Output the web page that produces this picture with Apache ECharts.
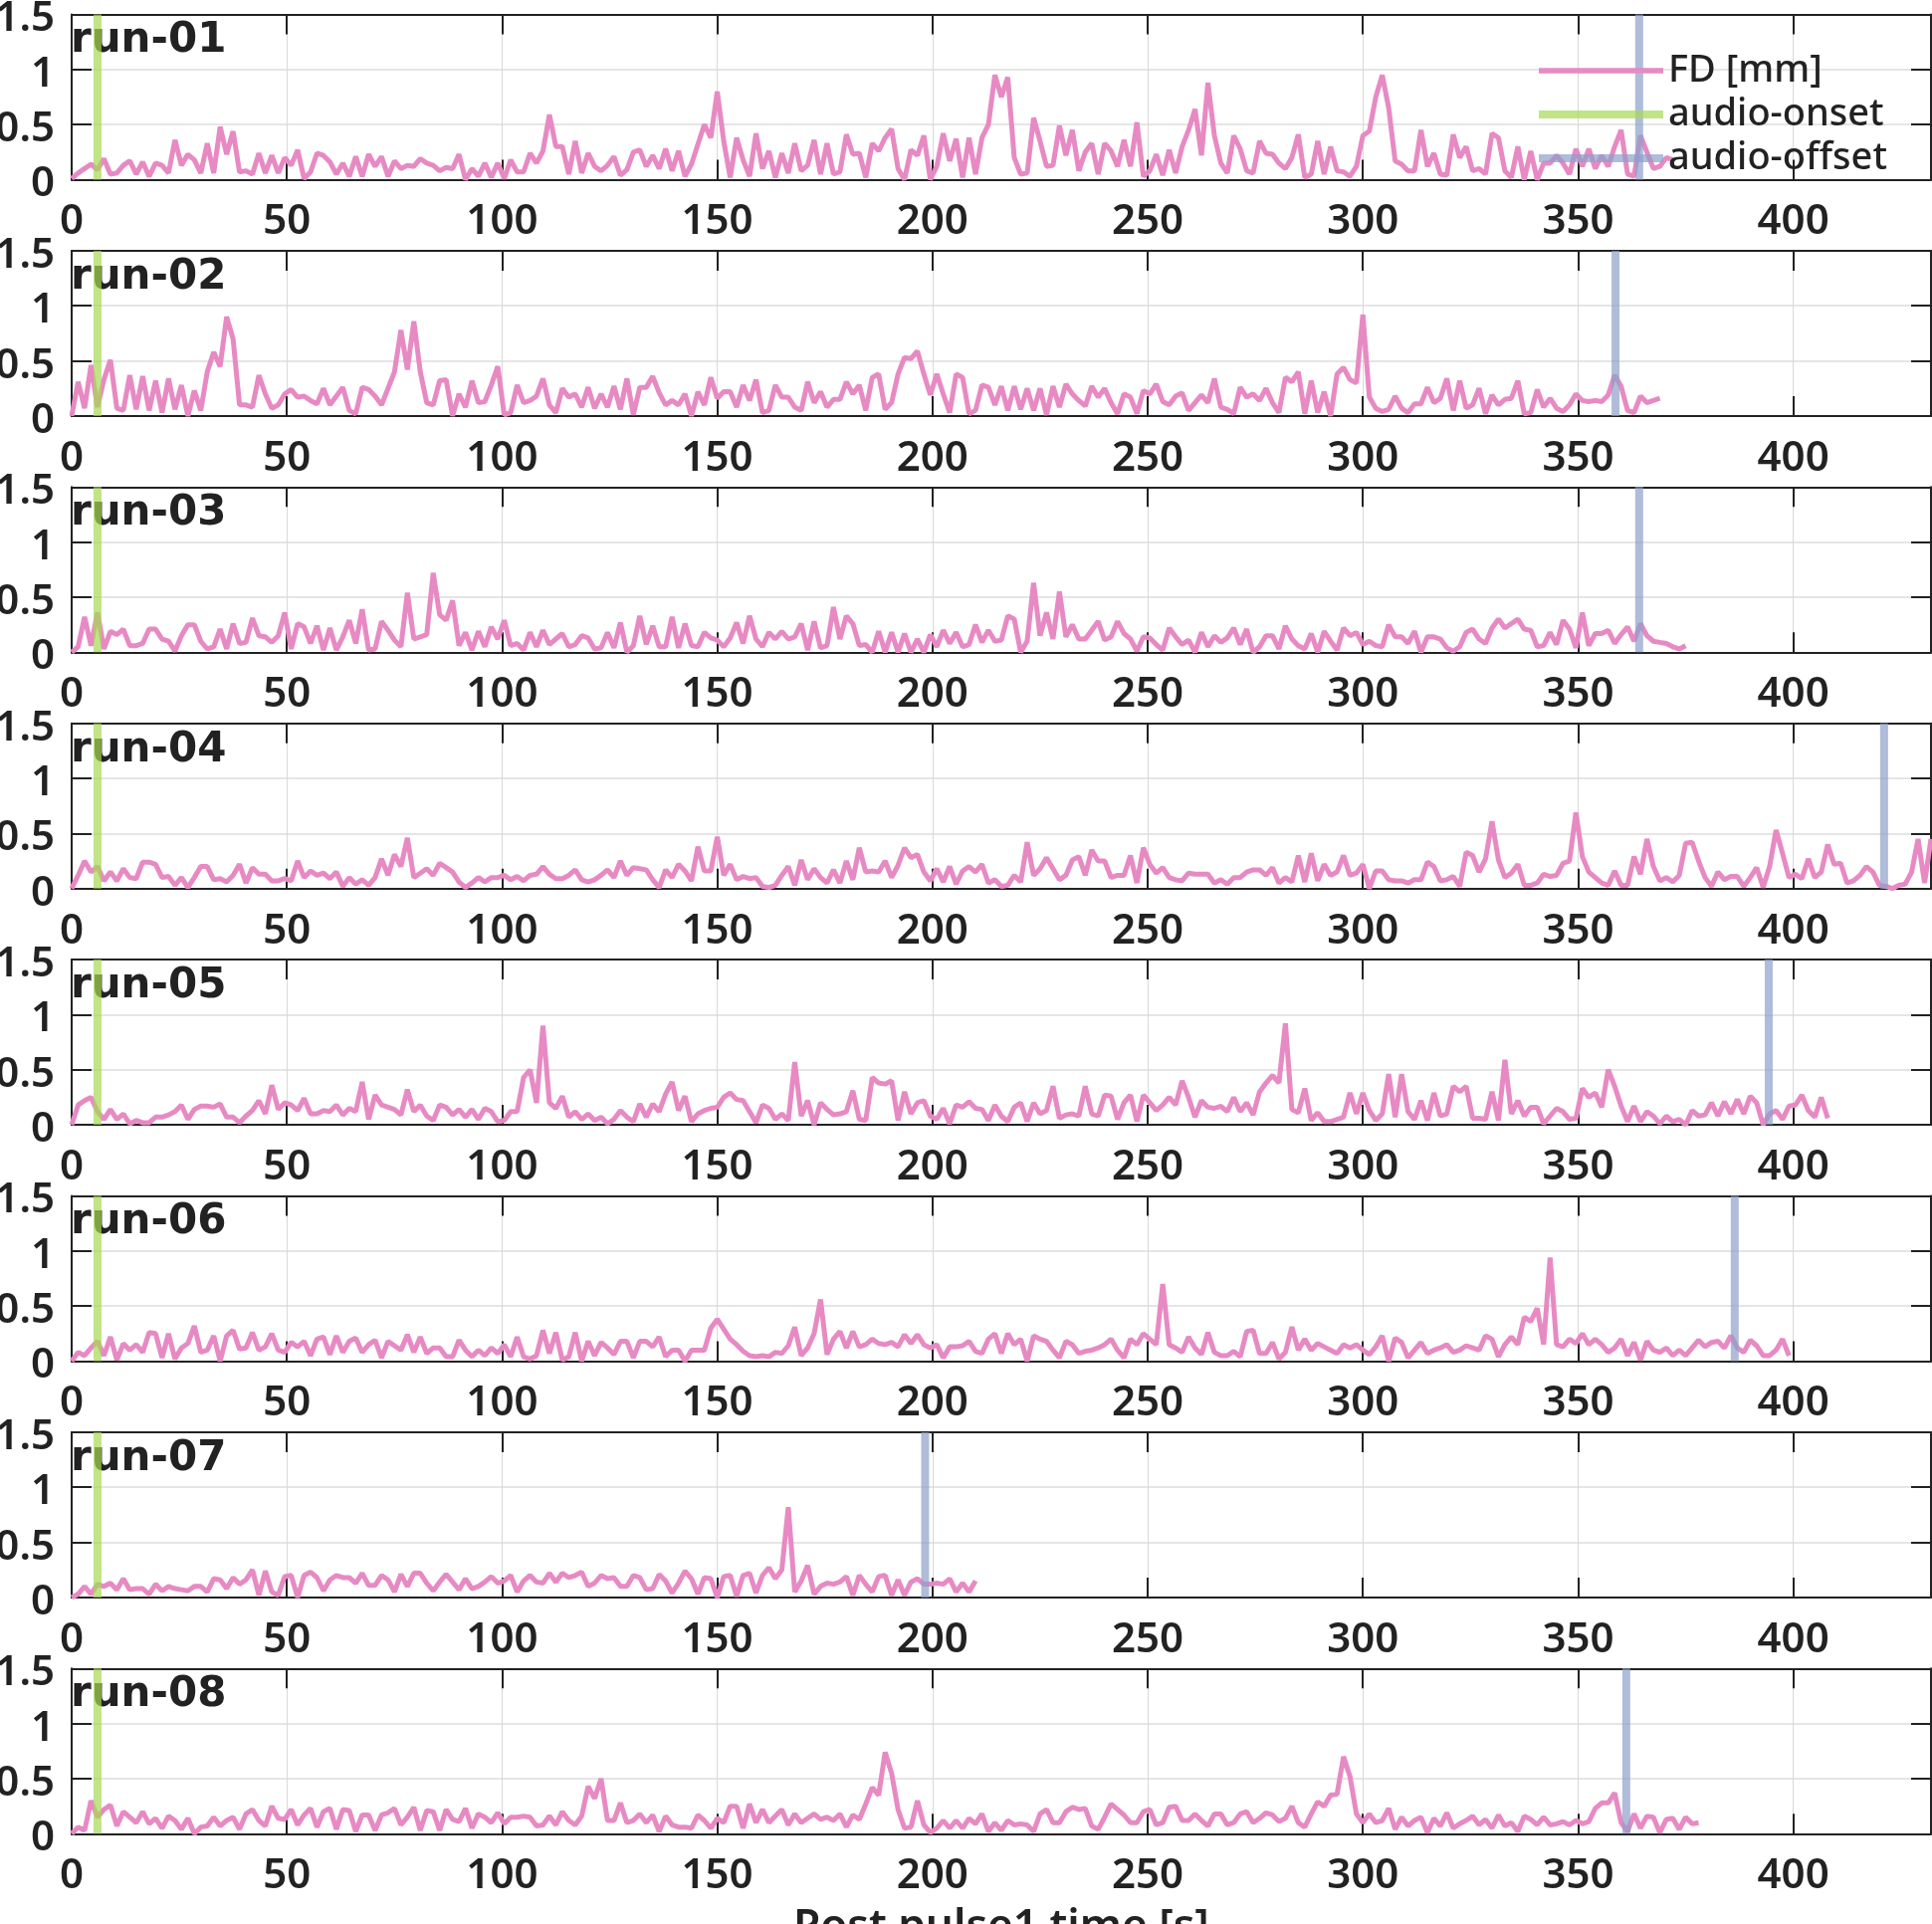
<!DOCTYPE html>
<html>
<head>
<meta charset="utf-8">
<title>Framewise displacement per run</title>
<script src="https://cdn.jsdelivr.net/npm/echarts@6/dist/echarts.min.js"></script>
<style>
  html, body { margin: 0; padding: 0; background: #fff; }
  #main { width: 1941px; height: 1933px; }
</style>
</head>
<body>
<div id="main"></div>
<script>
// ---- data ----
const runNames = ["run-01", "run-02", "run-03", "run-04", "run-05", "run-06", "run-07", "run-08"];

// FD [mm], one sample every 1.5 s from t = 0
const run01 = [
  0.01, 0.06, 0.10, 0.14, 0.09, 0.19, 0.05, 0.06, 0.13, 0.17,
  0.05, 0.16, 0.03, 0.15, 0.13, 0.06, 0.36, 0.13, 0.23, 0.18,
  0.06, 0.33, 0.06, 0.48, 0.23, 0.44, 0.07, 0.08, 0.05, 0.24,
  0.06, 0.22, 0.06, 0.20, 0.13, 0.27, 0.01, 0.07, 0.24, 0.22,
  0.16, 0.05, 0.15, 0.03, 0.21, 0.03, 0.23, 0.12, 0.21, 0.03,
  0.17, 0.10, 0.13, 0.12, 0.19, 0.15, 0.13, 0.08, 0.11, 0.10,
  0.23, 0.00, 0.10, 0.03, 0.15, 0.02, 0.15, 0.01, 0.18, 0.07,
  0.07, 0.24, 0.15, 0.26, 0.59, 0.30, 0.30, 0.05, 0.35, 0.06,
  0.24, 0.12, 0.08, 0.13, 0.21, 0.04, 0.09, 0.25, 0.27, 0.12,
  0.22, 0.10, 0.28, 0.08, 0.26, 0.03, 0.14, 0.32, 0.50, 0.38,
  0.80, 0.35, 0.02, 0.38, 0.18, 0.03, 0.42, 0.10, 0.26, 0.02,
  0.24, 0.06, 0.33, 0.08, 0.13, 0.36, 0.05, 0.33, 0.05, 0.07,
  0.41, 0.23, 0.24, 0.02, 0.33, 0.26, 0.38, 0.46, 0.10, 0.00,
  0.27, 0.22, 0.40, 0.00, 0.12, 0.42, 0.17, 0.37, 0.02, 0.38,
  0.05, 0.38, 0.50, 0.95, 0.75, 0.93, 0.20, 0.05, 0.06, 0.56,
  0.35, 0.12, 0.13, 0.49, 0.22, 0.45, 0.08, 0.25, 0.33, 0.05,
  0.33, 0.26, 0.12, 0.36, 0.12, 0.52, 0.03, 0.08, 0.23, 0.04,
  0.27, 0.06, 0.30, 0.45, 0.64, 0.22, 0.88, 0.40, 0.15, 0.06,
  0.40, 0.28, 0.08, 0.06, 0.35, 0.24, 0.23, 0.15, 0.10, 0.20,
  0.41, 0.02, 0.05, 0.35, 0.05, 0.30, 0.08, 0.07, 0.03, 0.12,
  0.40, 0.44, 0.75, 0.95, 0.65, 0.17, 0.14, 0.08, 0.08, 0.45,
  0.12, 0.24, 0.05, 0.04, 0.41, 0.20, 0.30, 0.08, 0.10, 0.05,
  0.42, 0.38, 0.08, 0.02, 0.30, 0.00, 0.26, 0.00, 0.15, 0.15,
  0.22, 0.15, 0.05, 0.28, 0.12, 0.28, 0.10, 0.22, 0.12, 0.30,
  0.45, 0.05, 0.03, 0.40, 0.25, 0.10, 0.12, 0.20, 0.18
];
const run02 = [
  0.00, 0.31, 0.07, 0.46, 0.08, 0.33, 0.51, 0.07, 0.05, 0.37,
  0.06, 0.36, 0.05, 0.32, 0.03, 0.34, 0.06, 0.28, 0.00, 0.23,
  0.05, 0.40, 0.58, 0.45, 0.90, 0.70, 0.10, 0.10, 0.08, 0.37,
  0.20, 0.07, 0.10, 0.20, 0.24, 0.17, 0.18, 0.14, 0.11, 0.25,
  0.10, 0.18, 0.26, 0.05, 0.02, 0.26, 0.24, 0.18, 0.10, 0.25,
  0.40, 0.78, 0.42, 0.86, 0.40, 0.12, 0.10, 0.32, 0.33, 0.00,
  0.20, 0.08, 0.32, 0.12, 0.13, 0.28, 0.45, 0.01, 0.03, 0.28,
  0.12, 0.14, 0.18, 0.34, 0.10, 0.03, 0.25, 0.17, 0.20, 0.08,
  0.26, 0.07, 0.20, 0.08, 0.27, 0.06, 0.34, 0.01, 0.26, 0.26,
  0.36, 0.21, 0.10, 0.14, 0.10, 0.20, 0.00, 0.22, 0.10, 0.35,
  0.16, 0.22, 0.22, 0.08, 0.28, 0.14, 0.33, 0.03, 0.05, 0.28,
  0.17, 0.17, 0.08, 0.05, 0.31, 0.12, 0.22, 0.08, 0.15, 0.15,
  0.31, 0.20, 0.28, 0.05, 0.35, 0.38, 0.06, 0.12, 0.38, 0.53,
  0.52, 0.59, 0.38, 0.19, 0.38, 0.20, 0.03, 0.38, 0.35, 0.02,
  0.05, 0.28, 0.26, 0.10, 0.27, 0.05, 0.27, 0.06, 0.25, 0.05,
  0.25, 0.01, 0.27, 0.08, 0.29, 0.20, 0.14, 0.09, 0.27, 0.17,
  0.25, 0.12, 0.02, 0.20, 0.17, 0.02, 0.23, 0.20, 0.29, 0.13,
  0.10, 0.18, 0.21, 0.05, 0.12, 0.19, 0.12, 0.34, 0.08, 0.06,
  0.02, 0.26, 0.17, 0.20, 0.14, 0.25, 0.12, 0.03, 0.35, 0.31,
  0.40, 0.02, 0.32, 0.03, 0.22, 0.00, 0.38, 0.44, 0.33, 0.30,
  0.92, 0.17, 0.07, 0.04, 0.06, 0.18, 0.07, 0.03, 0.11, 0.11,
  0.26, 0.12, 0.16, 0.34, 0.05, 0.32, 0.07, 0.10, 0.25, 0.02,
  0.19, 0.10, 0.15, 0.16, 0.32, 0.02, 0.03, 0.24, 0.08, 0.16,
  0.07, 0.04, 0.10, 0.20, 0.14, 0.13, 0.14, 0.13, 0.19, 0.37,
  0.27, 0.05, 0.03, 0.18, 0.12, 0.14, 0.16
];
const run03 = [
  0.00, 0.05, 0.32, 0.06, 0.36, 0.03, 0.19, 0.16, 0.21, 0.06,
  0.06, 0.08, 0.21, 0.21, 0.12, 0.10, 0.01, 0.15, 0.25, 0.25,
  0.10, 0.03, 0.05, 0.21, 0.03, 0.26, 0.08, 0.09, 0.31, 0.15,
  0.14, 0.09, 0.15, 0.36, 0.03, 0.26, 0.23, 0.08, 0.24, 0.02,
  0.22, 0.02, 0.14, 0.29, 0.08, 0.39, 0.02, 0.03, 0.28, 0.20,
  0.11, 0.05, 0.54, 0.12, 0.14, 0.16, 0.72, 0.34, 0.29, 0.47,
  0.06, 0.18, 0.02, 0.19, 0.05, 0.23, 0.12, 0.29, 0.06, 0.08,
  0.02, 0.18, 0.05, 0.20, 0.07, 0.12, 0.17, 0.05, 0.07, 0.15,
  0.13, 0.03, 0.04, 0.18, 0.04, 0.27, 0.00, 0.06, 0.33, 0.07,
  0.24, 0.05, 0.05, 0.32, 0.04, 0.26, 0.06, 0.05, 0.18, 0.13,
  0.11, 0.05, 0.13, 0.27, 0.08, 0.33, 0.12, 0.05, 0.18, 0.12,
  0.19, 0.12, 0.14, 0.26, 0.02, 0.28, 0.04, 0.06, 0.41, 0.12,
  0.33, 0.26, 0.06, 0.07, 0.00, 0.19, 0.00, 0.18, 0.00, 0.17,
  0.00, 0.12, 0.00, 0.16, 0.05, 0.20, 0.08, 0.18, 0.05, 0.07,
  0.25, 0.09, 0.20, 0.10, 0.11, 0.33, 0.30, 0.00, 0.10, 0.63,
  0.15, 0.36, 0.12, 0.55, 0.14, 0.25, 0.12, 0.12, 0.20, 0.28,
  0.11, 0.14, 0.28, 0.17, 0.12, 0.01, 0.14, 0.13, 0.07, 0.02,
  0.22, 0.14, 0.07, 0.11, 0.00, 0.18, 0.05, 0.15, 0.09, 0.13,
  0.22, 0.07, 0.21, 0.00, 0.05, 0.15, 0.15, 0.03, 0.24, 0.12,
  0.06, 0.03, 0.17, 0.00, 0.19, 0.10, 0.02, 0.22, 0.15, 0.18,
  0.07, 0.10, 0.06, 0.05, 0.25, 0.14, 0.14, 0.08, 0.19, 0.00,
  0.14, 0.14, 0.12, 0.04, 0.01, 0.05, 0.18, 0.21, 0.12, 0.08,
  0.22, 0.30, 0.22, 0.26, 0.30, 0.21, 0.20, 0.05, 0.06, 0.18,
  0.07, 0.29, 0.21, 0.04, 0.36, 0.06, 0.17, 0.17, 0.20, 0.08,
  0.16, 0.23, 0.10, 0.26, 0.15, 0.10, 0.09, 0.08, 0.05, 0.03,
  0.06
];
const run04 = [
  0.00, 0.12, 0.25, 0.15, 0.20, 0.07, 0.15, 0.07, 0.18, 0.10,
  0.09, 0.24, 0.24, 0.22, 0.10, 0.11, 0.03, 0.10, 0.01, 0.10,
  0.20, 0.20, 0.08, 0.09, 0.06, 0.12, 0.22, 0.05, 0.19, 0.13,
  0.13, 0.07, 0.07, 0.09, 0.07, 0.25, 0.10, 0.16, 0.12, 0.14,
  0.09, 0.15, 0.02, 0.10, 0.04, 0.08, 0.03, 0.10, 0.27, 0.12,
  0.31, 0.20, 0.46, 0.10, 0.14, 0.18, 0.12, 0.23, 0.19, 0.15,
  0.06, 0.01, 0.05, 0.10, 0.06, 0.10, 0.10, 0.12, 0.08, 0.11,
  0.07, 0.12, 0.13, 0.20, 0.13, 0.09, 0.09, 0.12, 0.17, 0.08,
  0.06, 0.08, 0.12, 0.17, 0.10, 0.25, 0.12, 0.19, 0.18, 0.17,
  0.08, 0.01, 0.17, 0.10, 0.22, 0.16, 0.07, 0.38, 0.16, 0.16,
  0.47, 0.12, 0.22, 0.08, 0.11, 0.09, 0.10, 0.02, 0.01, 0.03,
  0.12, 0.20, 0.03, 0.26, 0.08, 0.18, 0.10, 0.05, 0.17, 0.05,
  0.25, 0.08, 0.37, 0.15, 0.16, 0.15, 0.25, 0.10, 0.21, 0.37,
  0.28, 0.31, 0.15, 0.07, 0.18, 0.06, 0.20, 0.04, 0.16, 0.20,
  0.15, 0.22, 0.05, 0.08, 0.02, 0.03, 0.12, 0.06, 0.42, 0.12,
  0.18, 0.28, 0.18, 0.08, 0.12, 0.26, 0.29, 0.12, 0.35, 0.25,
  0.25, 0.10, 0.12, 0.12, 0.30, 0.05, 0.37, 0.22, 0.14, 0.19,
  0.10, 0.08, 0.07, 0.14, 0.13, 0.13, 0.13, 0.05, 0.08, 0.04,
  0.10, 0.10, 0.15, 0.17, 0.17, 0.12, 0.19, 0.05, 0.10, 0.06,
  0.30, 0.06, 0.32, 0.07, 0.22, 0.12, 0.15, 0.30, 0.12, 0.14,
  0.22, 0.00, 0.16, 0.16, 0.08, 0.07, 0.07, 0.05, 0.08, 0.08,
  0.24, 0.20, 0.07, 0.08, 0.11, 0.02, 0.33, 0.30, 0.15, 0.27,
  0.61, 0.26, 0.10, 0.14, 0.22, 0.03, 0.03, 0.05, 0.13, 0.11,
  0.12, 0.23, 0.25, 0.69, 0.29, 0.15, 0.10, 0.05, 0.03, 0.16,
  0.03, 0.03, 0.29, 0.13, 0.45, 0.20, 0.07, 0.10, 0.06, 0.12,
  0.41, 0.42, 0.25, 0.10, 0.02, 0.15, 0.08, 0.11, 0.11, 0.02,
  0.10, 0.19, 0.01, 0.20, 0.53, 0.32, 0.10, 0.13, 0.09, 0.27,
  0.10, 0.15, 0.40, 0.22, 0.23, 0.05, 0.07, 0.12, 0.20, 0.15,
  0.03, 0.02, 0.00, 0.03, 0.04, 0.15, 0.45, 0.05, 0.45
];
const run05 = [
  0.00, 0.18, 0.22, 0.25, 0.12, 0.05, 0.14, 0.05, 0.10, 0.01,
  0.04, 0.02, 0.02, 0.07, 0.07, 0.09, 0.12, 0.18, 0.05, 0.14,
  0.17, 0.17, 0.16, 0.19, 0.07, 0.07, 0.02, 0.08, 0.13, 0.22,
  0.10, 0.36, 0.14, 0.20, 0.18, 0.13, 0.24, 0.10, 0.10, 0.13,
  0.12, 0.18, 0.09, 0.15, 0.12, 0.39, 0.05, 0.27, 0.18, 0.16,
  0.14, 0.09, 0.32, 0.12, 0.18, 0.08, 0.04, 0.18, 0.16, 0.09,
  0.14, 0.07, 0.14, 0.05, 0.15, 0.12, 0.03, 0.04, 0.12, 0.12,
  0.43, 0.50, 0.20, 0.90, 0.20, 0.15, 0.26, 0.07, 0.12, 0.05,
  0.10, 0.04, 0.07, 0.01, 0.05, 0.13, 0.07, 0.03, 0.19, 0.07,
  0.19, 0.12, 0.28, 0.39, 0.13, 0.26, 0.03, 0.10, 0.13, 0.15,
  0.16, 0.25, 0.29, 0.23, 0.22, 0.12, 0.02, 0.18, 0.15, 0.05,
  0.10, 0.04, 0.57, 0.08, 0.22, 0.00, 0.20, 0.14, 0.09, 0.10,
  0.12, 0.31, 0.05, 0.04, 0.43, 0.38, 0.37, 0.40, 0.04, 0.30,
  0.10, 0.20, 0.22, 0.08, 0.05, 0.15, 0.01, 0.18, 0.16, 0.21,
  0.15, 0.14, 0.04, 0.18, 0.08, 0.03, 0.16, 0.20, 0.03, 0.20,
  0.10, 0.13, 0.35, 0.06, 0.09, 0.10, 0.08, 0.35, 0.10, 0.08,
  0.27, 0.26, 0.05, 0.20, 0.27, 0.03, 0.27, 0.20, 0.13, 0.18,
  0.25, 0.18, 0.40, 0.25, 0.07, 0.22, 0.16, 0.15, 0.17, 0.12,
  0.25, 0.12, 0.20, 0.09, 0.30, 0.38, 0.45, 0.38, 0.92, 0.14,
  0.11, 0.33, 0.04, 0.11, 0.03, 0.03, 0.05, 0.07, 0.29, 0.10,
  0.29, 0.13, 0.04, 0.10, 0.46, 0.07, 0.46, 0.12, 0.05, 0.22,
  0.04, 0.29, 0.08, 0.10, 0.35, 0.30, 0.35, 0.06, 0.06, 0.05,
  0.30, 0.04, 0.59, 0.10, 0.22, 0.08, 0.16, 0.16, 0.01, 0.08,
  0.15, 0.12, 0.05, 0.06, 0.33, 0.25, 0.29, 0.16, 0.50, 0.35,
  0.17, 0.03, 0.17, 0.03, 0.12, 0.08, 0.01, 0.08, 0.03, 0.05,
  0.00, 0.13, 0.08, 0.09, 0.20, 0.08, 0.21, 0.10, 0.23, 0.10,
  0.26, 0.20, 0.00, 0.10, 0.13, 0.05, 0.17, 0.18, 0.27, 0.13,
  0.07, 0.25, 0.06
];
const run06 = [
  0.00, 0.08, 0.05, 0.12, 0.18, 0.05, 0.22, 0.01, 0.16, 0.10,
  0.15, 0.08, 0.26, 0.25, 0.03, 0.25, 0.02, 0.12, 0.16, 0.32,
  0.08, 0.10, 0.23, 0.00, 0.23, 0.28, 0.11, 0.12, 0.26, 0.10,
  0.13, 0.25, 0.10, 0.08, 0.17, 0.13, 0.18, 0.05, 0.20, 0.22,
  0.06, 0.23, 0.08, 0.18, 0.21, 0.08, 0.15, 0.19, 0.03, 0.18,
  0.14, 0.10, 0.24, 0.08, 0.22, 0.07, 0.12, 0.12, 0.04, 0.04,
  0.19, 0.10, 0.04, 0.10, 0.05, 0.12, 0.07, 0.15, 0.04, 0.22,
  0.04, 0.02, 0.05, 0.28, 0.07, 0.26, 0.01, 0.04, 0.26, 0.00,
  0.18, 0.05, 0.17, 0.12, 0.06, 0.18, 0.18, 0.03, 0.18, 0.18,
  0.13, 0.22, 0.04, 0.10, 0.10, 0.00, 0.10, 0.10, 0.10, 0.30,
  0.38, 0.29, 0.20, 0.15, 0.09, 0.05, 0.04, 0.05, 0.04, 0.08,
  0.07, 0.14, 0.31, 0.05, 0.12, 0.25, 0.56, 0.06, 0.20, 0.27,
  0.12, 0.27, 0.13, 0.15, 0.20, 0.16, 0.15, 0.17, 0.13, 0.24,
  0.16, 0.24, 0.15, 0.12, 0.15, 0.03, 0.13, 0.13, 0.14, 0.18,
  0.09, 0.07, 0.20, 0.25, 0.07, 0.25, 0.15, 0.20, 0.00, 0.23,
  0.20, 0.18, 0.10, 0.03, 0.18, 0.15, 0.07, 0.09, 0.10, 0.12,
  0.15, 0.20, 0.10, 0.03, 0.20, 0.15, 0.25, 0.20, 0.15, 0.70,
  0.15, 0.12, 0.08, 0.22, 0.12, 0.06, 0.26, 0.08, 0.05, 0.05,
  0.09, 0.04, 0.27, 0.28, 0.07, 0.07, 0.17, 0.02, 0.08, 0.31,
  0.10, 0.20, 0.10, 0.16, 0.13, 0.10, 0.07, 0.15, 0.12, 0.15,
  0.10, 0.06, 0.13, 0.23, 0.00, 0.21, 0.17, 0.03, 0.10, 0.17,
  0.07, 0.10, 0.12, 0.15, 0.08, 0.10, 0.14, 0.12, 0.10, 0.23,
  0.20, 0.04, 0.15, 0.22, 0.15, 0.40, 0.36, 0.48, 0.15, 0.94,
  0.15, 0.13, 0.20, 0.16, 0.25, 0.15, 0.20, 0.15, 0.08, 0.12,
  0.20, 0.05, 0.17, 0.01, 0.18, 0.10, 0.08, 0.12, 0.05, 0.10,
  0.05, 0.12, 0.19, 0.13, 0.17, 0.18, 0.12, 0.23, 0.12, 0.08,
  0.19, 0.14, 0.05, 0.05, 0.10, 0.20, 0.05
];
const run07 = [
  0.00, 0.03, 0.10, 0.03, 0.12, 0.10, 0.13, 0.07, 0.17, 0.07,
  0.08, 0.08, 0.03, 0.12, 0.06, 0.10, 0.08, 0.07, 0.06, 0.10,
  0.10, 0.05, 0.17, 0.16, 0.08, 0.18, 0.12, 0.16, 0.25, 0.02,
  0.24, 0.05, 0.02, 0.19, 0.20, 0.00, 0.20, 0.23, 0.18, 0.06,
  0.16, 0.20, 0.18, 0.18, 0.13, 0.22, 0.11, 0.11, 0.20, 0.16,
  0.05, 0.21, 0.10, 0.22, 0.22, 0.13, 0.06, 0.14, 0.21, 0.14,
  0.07, 0.17, 0.08, 0.10, 0.14, 0.19, 0.13, 0.15, 0.20, 0.05,
  0.15, 0.20, 0.14, 0.13, 0.22, 0.14, 0.22, 0.18, 0.20, 0.23,
  0.10, 0.13, 0.20, 0.17, 0.18, 0.10, 0.10, 0.20, 0.18, 0.07,
  0.08, 0.21, 0.15, 0.04, 0.13, 0.24, 0.17, 0.03, 0.18, 0.17,
  0.00, 0.19, 0.20, 0.01, 0.20, 0.22, 0.04, 0.20, 0.27, 0.17,
  0.25, 0.82, 0.05, 0.15, 0.29, 0.03, 0.10, 0.13, 0.12, 0.14,
  0.19, 0.02, 0.20, 0.12, 0.05, 0.19, 0.20, 0.02, 0.16, 0.02,
  0.14, 0.17, 0.12, 0.12, 0.13, 0.12, 0.17, 0.05, 0.13, 0.05,
  0.15
];
const run08 = [
  0.00, 0.06, 0.03, 0.30, 0.15, 0.22, 0.26, 0.07, 0.20, 0.15,
  0.10, 0.20, 0.09, 0.14, 0.05, 0.16, 0.12, 0.04, 0.14, 0.00,
  0.06, 0.07, 0.15, 0.07, 0.12, 0.15, 0.04, 0.18, 0.22, 0.12,
  0.07, 0.25, 0.14, 0.13, 0.22, 0.08, 0.17, 0.23, 0.06, 0.20,
  0.23, 0.04, 0.22, 0.21, 0.02, 0.17, 0.17, 0.03, 0.17, 0.19,
  0.23, 0.08, 0.15, 0.24, 0.03, 0.21, 0.20, 0.03, 0.22, 0.13,
  0.11, 0.23, 0.05, 0.18, 0.15, 0.10, 0.19, 0.09, 0.15, 0.15,
  0.16, 0.15, 0.07, 0.08, 0.16, 0.08, 0.20, 0.12, 0.08, 0.16,
  0.43, 0.32, 0.50, 0.12, 0.12, 0.28, 0.10, 0.12, 0.18, 0.10,
  0.17, 0.02, 0.16, 0.08, 0.06, 0.06, 0.05, 0.17, 0.12, 0.05,
  0.14, 0.10, 0.25, 0.25, 0.05, 0.27, 0.10, 0.22, 0.10, 0.16,
  0.22, 0.08, 0.18, 0.10, 0.14, 0.18, 0.13, 0.15, 0.12, 0.18,
  0.06, 0.17, 0.13, 0.27, 0.42, 0.35, 0.74, 0.55, 0.22, 0.05,
  0.06, 0.30, 0.08, 0.01, 0.05, 0.12, 0.05, 0.12, 0.05, 0.14,
  0.09, 0.18, 0.02, 0.10, 0.03, 0.12, 0.08, 0.09, 0.08, 0.02,
  0.18, 0.22, 0.10, 0.10, 0.20, 0.24, 0.22, 0.23, 0.07, 0.04,
  0.15, 0.27, 0.22, 0.17, 0.10, 0.10, 0.20, 0.22, 0.08, 0.10,
  0.24, 0.25, 0.12, 0.12, 0.18, 0.12, 0.07, 0.18, 0.18, 0.08,
  0.10, 0.18, 0.20, 0.10, 0.14, 0.19, 0.17, 0.11, 0.14, 0.25,
  0.10, 0.06, 0.18, 0.29, 0.25, 0.35, 0.36, 0.70, 0.52, 0.18,
  0.10, 0.18, 0.10, 0.12, 0.23, 0.04, 0.15, 0.07, 0.12, 0.15,
  0.01, 0.14, 0.07, 0.19, 0.05, 0.09, 0.12, 0.16, 0.08, 0.13,
  0.05, 0.17, 0.07, 0.10, 0.02, 0.16, 0.13, 0.08, 0.15, 0.08,
  0.09, 0.11, 0.08, 0.12, 0.09, 0.11, 0.23, 0.28, 0.28, 0.37,
  0.10, 0.02, 0.18, 0.05, 0.16, 0.15, 0.01, 0.13, 0.14, 0.04,
  0.15, 0.09, 0.10
];

const fdRuns = [run01, run02, run03, run04, run05, run06, run07, run08];
const sampleStep = 1.5; // seconds between FD samples

// audio on/offset markers [s]
const audioOnset = [6, 6, 6, 6, 6, 6, 6, 6];
const audioOffset = [364.2, 358.7, 364.2, 421.1, 394.3, 386.4, 198.3, 361.2];

const xMax = 432;
const yMax = 1.5;

// ---- chart ----
const ink = "#222222";
const pink = "#e78ac3";
const green = "rgba(166, 216, 84, 0.7)";
const blue = "rgba(141, 160, 203, 0.7)";

const panelTop = 14.5;
const panelStep = 237.4;
const panelHeight = 166;

const grids = [];
const xAxes = [];
const yAxes = [];
const series = [];
const titles = [];

runNames.forEach((name, i) => {
  const top = panelTop + i * panelStep;
  grids.push({ left: 72, top: top, width: 1868, height: panelHeight, outerBoundsMode: "none", containLabel: false });

  const tick = { show: true, inside: true, length: 20, lineStyle: { color: ink, width: 2 } };
  const spine = { show: true, onZero: false, lineStyle: { color: ink, width: 2 } };

  // bottom / top x axes
  xAxes.push({
    gridIndex: i, type: "value", position: "bottom", min: 0, max: xMax, interval: 50,
    axisLine: spine, axisTick: tick,
    axisLabel: {
      fontSize: 42, fontWeight: 600, color: ink, margin: 22,
      formatter: (v) => (v % 50 === 0 ? String(v) : "")
    },
    splitLine: { show: true, lineStyle: { color: "#d9d9d9", width: 1 } },
    name: i === runNames.length - 1 ? "Post pulse1 time [s]" : "",
    nameLocation: "middle", nameGap: 72,
    nameTextStyle: { fontSize: 44, fontWeight: 600, color: ink }
  });
  xAxes.push({
    gridIndex: i, type: "value", position: "top", min: 0, max: xMax, interval: 50,
    axisLine: spine, axisTick: tick, axisLabel: { show: false }, splitLine: { show: false }
  });

  // left / right y axes (labels nudged a little below the tick, as in the source)
  yAxes.push({
    gridIndex: i, type: "value", position: "left", min: 0, max: yMax, interval: 0.5,
    axisLine: spine, axisTick: tick,
    axisLabel: {
      margin: 17,
      formatter: (v) => "{n|" + v + "}",
      rich: { n: { fontSize: 42, fontWeight: 600, color: ink, padding: [10, 0, 0, 0] } }
    },
    splitLine: { show: true, lineStyle: { color: "#dcdcdc", width: 1.5 } }
  });
  yAxes.push({
    gridIndex: i, type: "value", position: "right", min: 0, max: yMax, interval: 0.5,
    axisLine: spine, axisTick: tick, axisLabel: { show: false }, splitLine: { show: false }
  });

  titles.push({
    text: name, left: 71, top: top + 6, padding: 0, z: 0,
    textStyle: { fontFamily: "DejaVu Sans", fontWeight: "bold", fontSize: 42, color: ink }
  });

  series.push({
    name: "FD [mm]", type: "line", xAxisIndex: 2 * i, yAxisIndex: 2 * i,
    data: fdRuns[i].map((v, k) => [k * sampleStep, v]),
    symbol: "none", z: 2,
    lineStyle: { color: pink, width: 5 }, itemStyle: { color: pink }
  });
  series.push({
    name: "audio-onset", type: "line", xAxisIndex: 2 * i, yAxisIndex: 2 * i,
    data: [[audioOnset[i], 0], [audioOnset[i], yMax]],
    symbol: "none", z: 3,
    lineStyle: { color: green, width: 8 }, itemStyle: { color: green }
  });
  series.push({
    name: "audio-offset", type: "line", xAxisIndex: 2 * i, yAxisIndex: 2 * i,
    data: [[audioOffset[i], 0], [audioOffset[i], yMax]],
    symbol: "none", z: 3,
    lineStyle: { color: blue, width: 8 }, itemStyle: { color: blue }
  });
});

const chart = echarts.init(document.getElementById("main"));
chart.setOption({
  animation: false,
  backgroundColor: "#ffffff",
  textStyle: { fontFamily: "Noto Sans" },
  title: titles,
  legend: {
    orient: "vertical", left: 1542, top: 52, padding: 0,
    itemWidth: 125, itemHeight: 14, itemGap: 6,
    selectedMode: false,
    textStyle: { fontSize: 38, fontWeight: 500, color: ink },
    data: [
      { name: "FD [mm]", itemStyle: { opacity: 0 }, lineStyle: { width: 5.5 } },
      { name: "audio-onset", itemStyle: { opacity: 0 }, lineStyle: { width: 8 } },
      { name: "audio-offset", itemStyle: { opacity: 0 }, lineStyle: { width: 8 } }
    ]
  },
  grid: grids,
  xAxis: xAxes,
  yAxis: yAxes,
  series: series
});
</script>
</body>
</html>
